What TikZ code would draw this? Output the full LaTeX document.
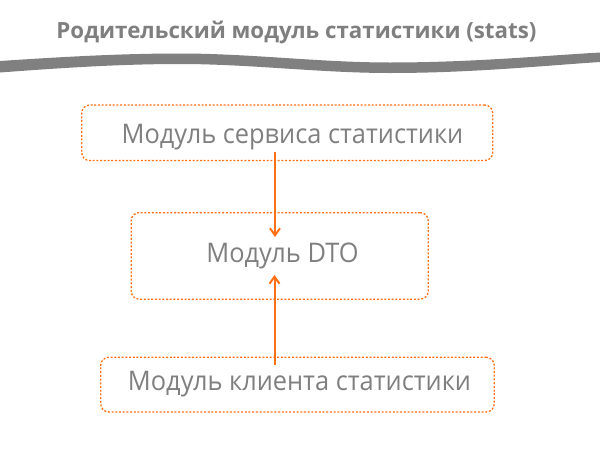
\documentclass[tikz,border=0pt]{standalone}
\usepackage{fontspec}
\setmainfont{Open Sans}
\newfontfamily\boxfont[FakeStretch=0.94]{Open Sans}
\usetikzlibrary{arrows.meta}
\definecolor{txtgray}{RGB}{127,127,127}
\definecolor{bandgray}{RGB}{128,128,128}
\definecolor{org}{RGB}{255,112,20}
\tikzset{
  modbox/.style={draw=org, line width=1.3pt, dash pattern=on 2pt off 1.7pt, rounded corners=8pt, inner sep=0pt},
  modtext/.style={anchor=base, text=txtgray, inner sep=0pt, font=\boxfont\fontsize{27}{30}\selectfont},
  ttl/.style={anchor=base, text=txtgray, inner sep=0pt, font=\fontsize{22.3}{25}\selectfont\bfseries},
  arr/.style={draw=org, line width=2pt, -{Straight Barb[length=7pt,width=10pt]}}
}
\begin{document}
\begin{tikzpicture}[x=1pt,y=-1pt]
\useasboundingbox (0,0) rectangle (600,450);
% title
\node[ttl] (title) at (296.5,38.5) {Родительский модуль статистики (stats)};
% wave band
\fill[bandgray] (0,61) .. controls (60,57) and (120,53.5) .. (180,53.5)
  .. controls (250,53.5) and (320,62.5) .. (390,62.5)
  .. controls (470,62.5) and (540,56) .. (600,52.5)
  -- (600,62) .. controls (540,66) and (470,73) .. (390,73)
  .. controls (320,73) and (250,64) .. (180,64)
  .. controls (120,64) and (60,68) .. (0,72.5) -- cycle;
% boxes
\node[modbox, minimum width=411pt, minimum height=55.5pt] (b1) at (287.2,132.8) {};
\node[modbox, minimum width=297pt, minimum height=86.5pt] (b2) at (279.7,255.9) {};
\node[modbox, minimum width=393.5pt, minimum height=54.7pt] (b3) at (297.5,384.6) {};
% texts
\node[modtext] (t1) at (292.5,143) {Модуль сервиса статистики};
\node[modtext] (t2) at (282.5,262.7) {Модуль DTO};
\node[modtext] (t3) at (299.5,390.7) {Модуль клиента статистики};
% arrows
\coordinate (a1s) at (275,152);
\coordinate (a1e) at (275,237);
\coordinate (a2s) at (274.5,365);
\coordinate (a2e) at (274.5,275);
\draw[arr] (a1s) -- (a1e);
\draw[arr] (a2s) -- (a2e);
\end{tikzpicture}
\end{document}
